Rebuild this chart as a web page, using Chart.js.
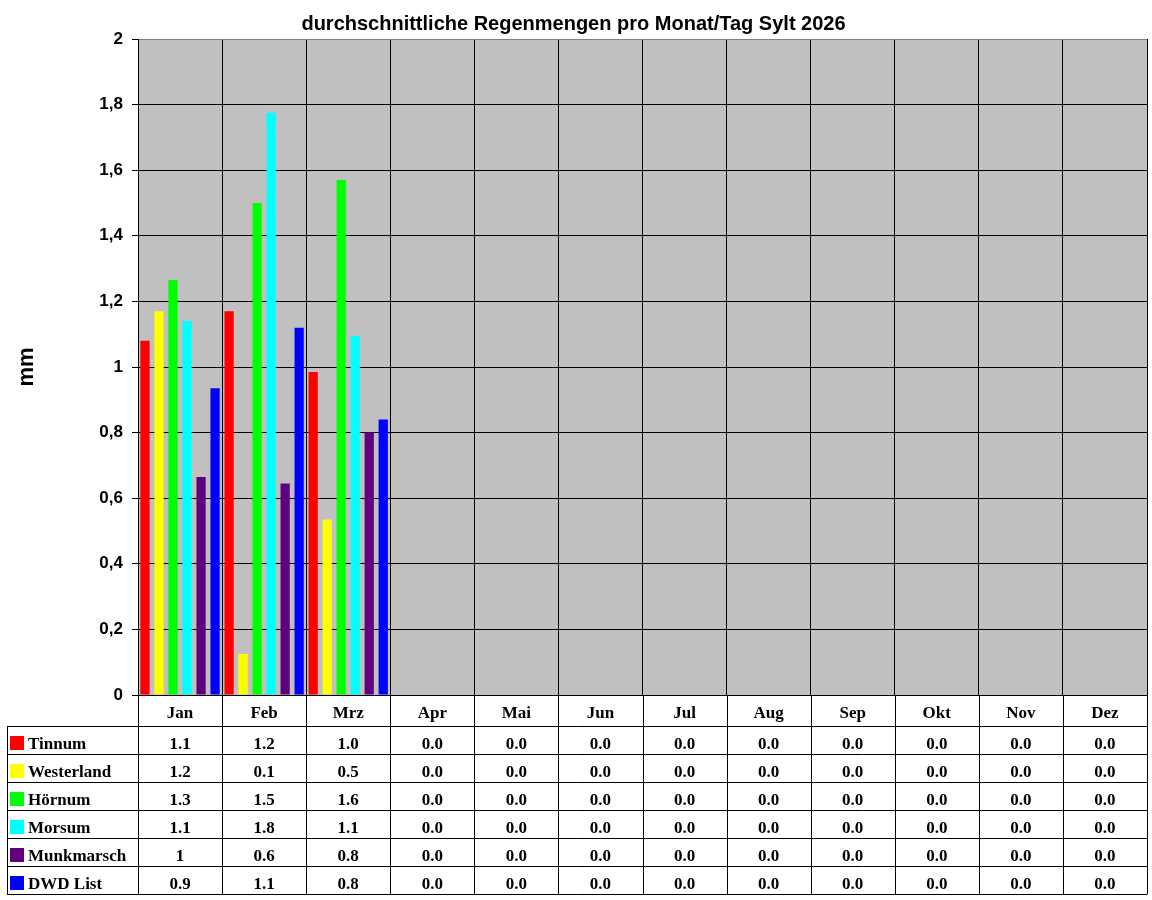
<!doctype html>
<html lang="de">

<head>
    <meta charset="utf-8">
    <title>Regenmengen Sylt 2026</title>
    <style>
        html, body {
            margin: 0;
            padding: 0;
            background: #fff;
        }

        #regen {
            display: block;
        }
    </style>
    <script src="https://cdn.jsdelivr.net/npm/chart.js"></script>
</head>

<body>
    <canvas id="regen" width="1152" height="900"></canvas>
    <script>
        // Monate (Kategorien)
        const months = ['Jan', 'Feb', 'Mrz', 'Apr', 'Mai', 'Jun', 'Jul', 'Aug', 'Sep', 'Okt', 'Nov', 'Dez'];
        const stations = ['Tinnum', 'Westerland', 'Hörnum', 'Morsum', 'Munkmarsch', 'DWD List'];
        const stationColors = ['#ff0000', '#ffff00', '#00ff00', '#00ffff', '#600080', '#0000ff'];

        // Werte (mm pro Tag)
        const tinnum = [1.08, 1.17, 0.985, 0, 0, 0, 0, 0, 0, 0, 0, 0];
        const westerland = [1.17, 0.125, 0.535, 0, 0, 0, 0, 0, 0, 0, 0, 0];
        const hoernum = [1.265, 1.50, 1.57, 0, 0, 0, 0, 0, 0, 0, 0, 0];
        const morsum = [1.14, 1.775, 1.095, 0, 0, 0, 0, 0, 0, 0, 0, 0];
        const munkmarsch = [0.665, 0.645, 0.80, 0, 0, 0, 0, 0, 0, 0, 0, 0];
        const dwdList = [0.935, 1.12, 0.84, 0, 0, 0, 0, 0, 0, 0, 0, 0];

        // Beschriftung der Datentabelle
        const tinnumTable = ['1.1', '1.2', '1.0', '0.0', '0.0', '0.0', '0.0', '0.0', '0.0', '0.0', '0.0', '0.0'];
        const westerlandTable = ['1.2', '0.1', '0.5', '0.0', '0.0', '0.0', '0.0', '0.0', '0.0', '0.0', '0.0', '0.0'];
        const hoernumTable = ['1.3', '1.5', '1.6', '0.0', '0.0', '0.0', '0.0', '0.0', '0.0', '0.0', '0.0', '0.0'];
        const morsumTable = ['1.1', '1.8', '1.1', '0.0', '0.0', '0.0', '0.0', '0.0', '0.0', '0.0', '0.0', '0.0'];
        const munkmarschTable = ['1', '0.6', '0.8', '0.0', '0.0', '0.0', '0.0', '0.0', '0.0', '0.0', '0.0', '0.0'];
        const dwdListTable = ['0.9', '1.1', '0.8', '0.0', '0.0', '0.0', '0.0', '0.0', '0.0', '0.0', '0.0', '0.0'];

        const seriesValues = [tinnum, westerland, hoernum, morsum, munkmarsch, dwdList];
        const tableRows = [tinnumTable, westerlandTable, hoernumTable, morsumTable, munkmarschTable, dwdListTable];

        const serif = "'Liberation Serif', 'Times New Roman', serif";
        const sans = "'Liberation Sans', Arial, sans-serif";
        const headerH = 31;
        const rowH = 28;
        const tableLeft = 7;

        // grauer Plotbereich
        const plotBg = {
            id: 'plotBg',
            beforeDraw(chart) {
                const { ctx, chartArea: a } = chart;
                ctx.save();
                ctx.fillStyle = '#fff';
                ctx.fillRect(0, 0, chart.width, chart.height);
                ctx.fillStyle = '#c0c0c0';
                ctx.fillRect(a.left, a.top, a.right - a.left, a.bottom - a.top);
                ctx.restore();
            }
        };

        // Datentabelle unter der Achse
        const dataTable = {
            id: 'dataTable',
            afterDraw(chart) {
                const { ctx, chartArea: a } = chart;
                const x = chart.scales.x;
                const half = (x.getPixelForValue(1) - x.getPixelForValue(0)) / 2;
                const top = a.bottom + headerH;
                const bottom = top + rowH * stations.length;

                ctx.save();
                ctx.strokeStyle = '#000';
                ctx.lineWidth = 1;
                ctx.beginPath();
                // senkrechte Linien
                for (let i = 0; i <= months.length; i++) {
                    const px = Math.round(x.getPixelForValue(i) - half) + 0.5;
                    ctx.moveTo(px, a.bottom);
                    ctx.lineTo(px, bottom);
                }
                ctx.moveTo(tableLeft + 0.5, top);
                ctx.lineTo(tableLeft + 0.5, bottom);
                // waagerechte Linien
                for (let r = 0; r <= stations.length; r++) {
                    const py = Math.round(top + r * rowH) + 0.5;
                    ctx.moveTo(tableLeft, py);
                    ctx.lineTo(a.right + 0.5, py);
                }
                ctx.stroke();

                ctx.font = 'bold 17px ' + serif;
                ctx.fillStyle = '#000';
                ctx.textBaseline = 'alphabetic';
                stations.forEach((name, r) => {
                    const rowTop = top + r * rowH;
                    ctx.fillStyle = stationColors[r];
                    ctx.fillRect(10, rowTop + 10, 14, 14);
                    ctx.fillStyle = '#000';
                    ctx.textAlign = 'left';
                    ctx.fillText(name, 28, rowTop + 23);
                    ctx.textAlign = 'center';
                    tableRows[r].forEach((v, i) => {
                        ctx.fillText(v, x.getPixelForValue(i), rowTop + 23);
                    });
                });
                ctx.restore();
            }
        };

        const datasets = stations.map((name, i) => ({
            label: name,
            data: seriesValues[i],
            backgroundColor: stationColors[i],
            borderWidth: 0,
            barPercentage: 0.66,
            categoryPercentage: 1.0
        }));

        new Chart(document.getElementById('regen'), {
            type: 'bar',
            data: {
                labels: months,
                datasets: datasets
            },
            options: {
                responsive: false,
                animation: false,
                devicePixelRatio: 1,
                layout: {
                    padding: { left: 0, right: 5, top: 0, bottom: 174 }
                },
                scales: {
                    x: {
                        offset: true,
                        grid: {
                            offset: true,
                            color: '#000',
                            drawTicks: false
                        },
                        border: { display: true, color: '#000' },
                        ticks: {
                            color: '#000',
                            padding: 8,
                            font: { family: serif, size: 17, weight: 'bold' }
                        },
                        afterFit(scale) {
                            scale.height = headerH;
                        }
                    },
                    y: {
                        min: 0,
                        max: 2,
                        ticks: {
                            stepSize: 0.2,
                            color: '#000',
                            padding: 9,
                            font: { family: sans, size: 17, weight: 'bold' },
                            callback: function (v) {
                                return Number.isInteger(v) ? String(v) : v.toFixed(1).replace('.', ',');
                            }
                        },
                        grid: {
                            color: ctx => (ctx.tick && ctx.tick.value === 2 ? '#808080' : '#000'),
                            tickColor: '#000',
                            tickLength: 6
                        },
                        border: { display: true, color: '#000' },
                        title: {
                            display: true,
                            text: 'mm',
                            color: '#000',
                            padding: { top: 14, bottom: 0 },
                            font: { family: sans, size: 22, weight: 'bold' }
                        },
                        afterFit(scale) {
                            scale.width = 138;
                        }
                    }
                },
                plugins: {
                    legend: { display: false },
                    tooltip: { enabled: false },
                    title: {
                        display: true,
                        text: 'durchschnittliche Regenmengen pro Monat/Tag Sylt 2026',
                        color: '#000',
                        padding: { top: 12, bottom: 3 },
                        font: { family: sans, size: 20, weight: 'bold' }
                    }
                }
            },
            plugins: [plotBg, dataTable]
        });
    </script>
</body>

</html>
